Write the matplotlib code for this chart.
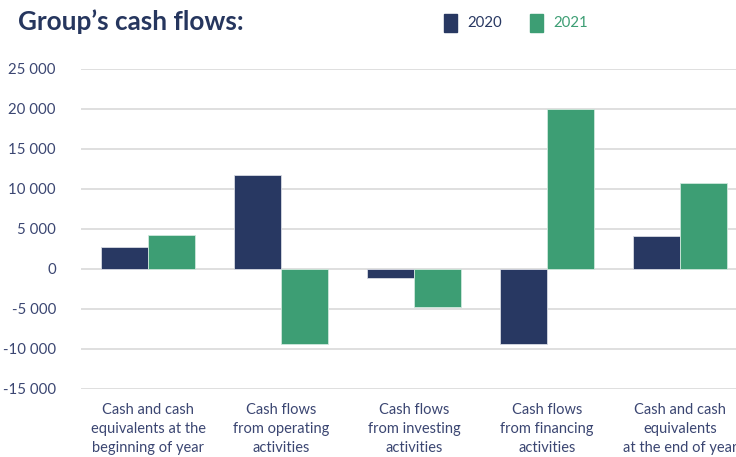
import numpy as np
import matplotlib
matplotlib.use("Agg")
import matplotlib.pyplot as plt

# Data
categories = [
    "Cash and cash\nequivalents at the\nbeginning of year",
    "Cash flows\nfrom operating\nactivities",
    "Cash flows\nfrom investing\nactivities",
    "Cash flows\nfrom financing\nactivities",
    "Cash and cash\nequivalents\nat the end of year",
]
values_2020 = [2750, 11750, -1150, -9400, 4150]
values_2021 = [4250, -9400, -4750, 19950, 10750]
y_ticks = [25000, 20000, 15000, 10000, 5000, 0, -5000, -10000, -15000]

NAVY = "#283862"
GREEN = "#3d9e74"
TEXT = "#3b4672"

plt.rcParams["font.family"] = ["Lato", "DejaVu Sans"]

fig = plt.figure(figsize=(7.36, 4.57), dpi=100)
ax = fig.add_axes([81 / 736, 1 - 389 / 457, 1 - 81 / 736, 320 / 457])

x = np.arange(len(categories))
w = 0.355
ax.bar(x - w / 2, values_2020, w, color=NAVY, edgecolor="#d8dbe3", linewidth=0.6, zorder=3)
ax.bar(x + w / 2, values_2021, w, color=GREEN, edgecolor="#cfe8dc", linewidth=0.6, zorder=3)

ax.set_ylim(-15000, 25000)
ax.set_xlim(-0.505, 4.42)
ax.set_yticks(y_ticks)
ax.set_yticklabels([f"{v:,}".replace(",", " ") for v in y_ticks])
ax.grid(axis="y", color="#dcdcdc", linewidth=1.3, zorder=0)
ax.tick_params(axis="y", length=0, pad=18, labelsize=10.8, labelcolor=TEXT)
ax.set_xticks([])
for s in ax.spines.values():
    s.set_visible(False)

for xi, label in zip(x, categories):
    ax.text(xi, -15000 - 1800, label, ha="center", va="top", fontsize=10.5,
            color=TEXT, linespacing=1.45, clip_on=False)

fig.text(18 / 736, 1 - 22 / 457, "Group’s cash flows:", fontsize=18.8, fontweight="bold",
         color="#26365e", ha="left", va="center")

# legend drawn by hand to match the header layout
fig.patches.append(plt.Rectangle((444 / 736, 1 - 32 / 457), 13 / 736, 18 / 457,
                                 transform=fig.transFigure, color=NAVY))
fig.text(467 / 736, 1 - 23 / 457, "2020", fontsize=10.8, color=NAVY, va="center")
fig.patches.append(plt.Rectangle((530 / 736, 1 - 32 / 457), 13 / 736, 18 / 457,
                                 transform=fig.transFigure, color=GREEN))
fig.text(553 / 736, 1 - 23 / 457, "2021", fontsize=10.8, color=GREEN, va="center")

fig.savefig("out.png", dpi=100)
